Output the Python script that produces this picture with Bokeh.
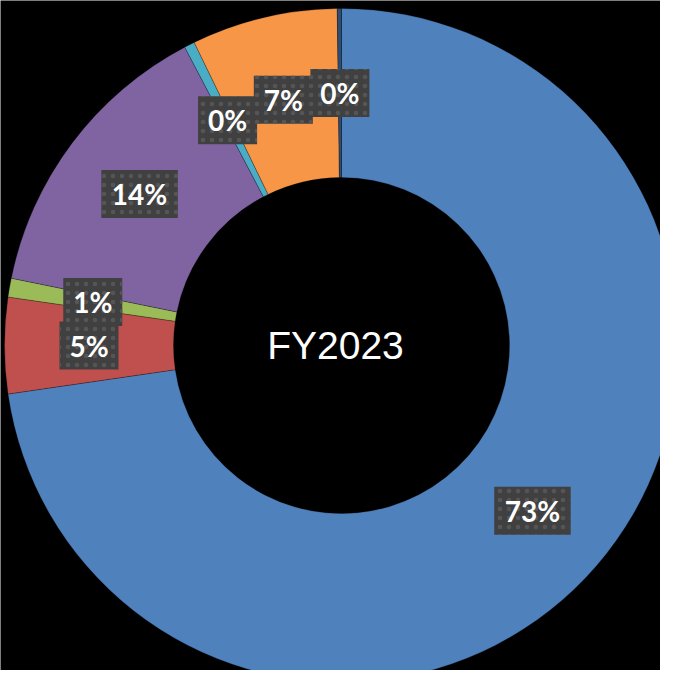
import math
from bokeh.plotting import figure
from bokeh.models import ColumnDataSource
from bokeh.core.properties import value
from bokeh.embed import file_html
from bokeh.resources import INLINE

# ---- data ----
categories = ["A", "B", "C", "D", "E", "F", "G"]
shares = [72.7, 4.6, 0.9, 14.1, 0.5, 7.0, 0.2]
pct_labels = ["73%", "5%", "1%", "14%", "0%", "7%", "0%"]
colors = ["#4F81BD", "#C0504D", "#9BBB59", "#8064A2", "#4BACC6", "#F79646", "#2C4D75"]
center_title = "FY2023"

W, H = 660, 670
cx, cy = 341, 325
r_in, r_out = 168, 337

total = sum(shares)
starts, ends, lx, ly, bw = [], [], [], [], []
cum = 0.0
for s, lab in zip(shares, pct_labels):
    a0 = math.pi / 2 - cum / total * 2 * math.pi
    cum += s
    a1 = math.pi / 2 - cum / total * 2 * math.pi
    starts.append(a0)
    ends.append(a1)
    mid = (a0 + a1) / 2
    rm = (r_in + r_out) / 2
    lx.append(cx + rm * math.cos(mid))
    ly.append(cy + rm * math.sin(mid))
    bw.append(24 + 17.5 * len(lab))

src = ColumnDataSource(dict(cat=categories, start=starts, end=ends, color=colors,
                            lx=lx, ly=ly, label=pct_labels, bw=bw))

p = figure(width=W, height=H, x_range=(0, W), y_range=(0, H),
           output_backend="svg", toolbar_location=None, min_border=0)
p.axis.visible = False
p.grid.visible = False
p.outline_line_color = None
p.background_fill_color = "#000000"
p.border_fill_color = "#000000"

p.annular_wedge(x=cx, y=cy, inner_radius=r_in, outer_radius=r_out,
                start_angle="start", end_angle="end", direction="clock",
                fill_color="color", line_color="#000000", line_alpha=0.25,
                line_width=1, source=src)

p.rect(x="lx", y="ly", width="bw", height=48, width_units="screen",
       height_units="screen", fill_color="#404040", line_color=None,
       hatch_pattern="dot", hatch_color="#555555", hatch_scale=9,
       hatch_weight=2, source=src)

p.text(x="lx", y="ly", text="label", text_align="center", text_baseline="middle",
       text_color="#FFFFFF", text_font=value("Lato"), text_font_style="bold",
       text_font_size="28px", source=src)

p.text(x=[cx - 6], y=[cy], text=[center_title], text_align="center",
       text_baseline="middle", text_color="#FFFFFF",
       text_font=value("Liberation Sans"), text_font_size="39px")

html = file_html(p, INLINE)
html = html.replace("<body>", '<body style="background:#000000;">', 1)
open("out.html", "w").write(html)
